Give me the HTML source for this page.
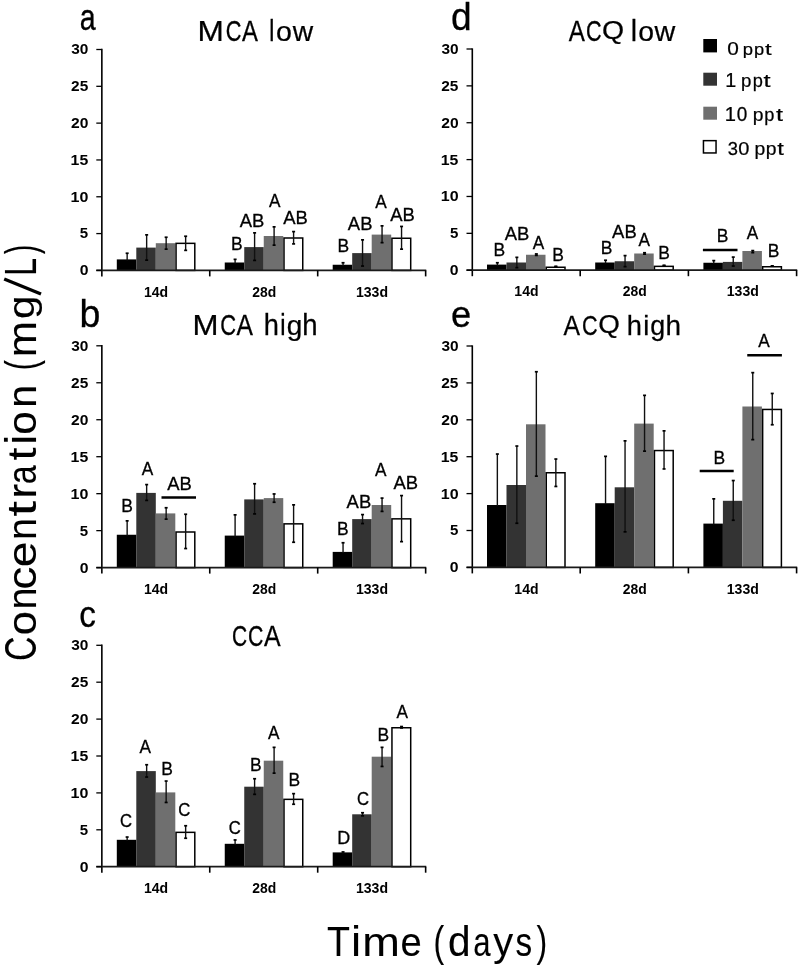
<!DOCTYPE html>
<html><head><meta charset="utf-8"><style>
html,body{margin:0;padding:0;background:#fff;}
svg{display:block;will-change:transform;}
text{font-family:"Liberation Sans",sans-serif;font-kerning:none;}
</style></head><body>
<svg width="800" height="968" viewBox="0 0 800 968">
<g>
<rect width="800" height="968" fill="#fff"/>

<rect x="116.80" y="259.40" width="19.50" height="11.00" fill="#000000"/>
<rect x="136.30" y="247.60" width="19.50" height="22.80" fill="#333333"/>
<rect x="155.80" y="243.20" width="19.50" height="27.20" fill="#6f6f6f"/>
<rect x="176.05" y="243.35" width="18.75" height="27.05" fill="#fff" stroke="#000" stroke-width="1.5"/>
<rect x="224.75" y="262.50" width="19.50" height="7.90" fill="#000000"/>
<rect x="244.25" y="247.10" width="19.50" height="23.30" fill="#333333"/>
<rect x="263.75" y="236.00" width="19.50" height="34.40" fill="#6f6f6f"/>
<rect x="284.00" y="238.00" width="18.75" height="32.40" fill="#fff" stroke="#000" stroke-width="1.5"/>
<rect x="332.70" y="264.75" width="19.50" height="5.65" fill="#000000"/>
<rect x="352.20" y="253.10" width="19.50" height="17.30" fill="#333333"/>
<rect x="371.70" y="234.60" width="19.50" height="35.80" fill="#6f6f6f"/>
<rect x="391.95" y="238.25" width="18.75" height="32.15" fill="#fff" stroke="#000" stroke-width="1.5"/>
<line x1="127.15" y1="253.40" x2="127.15" y2="260.40" stroke="#111" stroke-width="1.4"/>
<rect x="125.65" y="252.40" width="3.0" height="1.7" fill="#000"/>
<line x1="146.65" y1="235.00" x2="146.65" y2="260.00" stroke="#111" stroke-width="1.4"/>
<rect x="145.15" y="234.00" width="3.0" height="1.7" fill="#000"/>
<rect x="145.15" y="259.30" width="3.0" height="1.7" fill="#000"/>
<line x1="166.15" y1="237.40" x2="166.15" y2="249.00" stroke="#111" stroke-width="1.4"/>
<rect x="164.65" y="236.40" width="3.0" height="1.7" fill="#000"/>
<rect x="164.65" y="248.30" width="3.0" height="1.7" fill="#000"/>
<line x1="185.65" y1="236.40" x2="185.65" y2="250.20" stroke="#111" stroke-width="1.4"/>
<rect x="184.15" y="235.40" width="3.0" height="1.7" fill="#000"/>
<rect x="184.15" y="249.50" width="3.0" height="1.7" fill="#000"/>
<line x1="235.10" y1="259.50" x2="235.10" y2="263.50" stroke="#111" stroke-width="1.4"/>
<rect x="233.60" y="258.50" width="3.0" height="1.7" fill="#000"/>
<line x1="254.60" y1="233.00" x2="254.60" y2="260.25" stroke="#111" stroke-width="1.4"/>
<rect x="253.10" y="232.00" width="3.0" height="1.7" fill="#000"/>
<rect x="253.10" y="259.55" width="3.0" height="1.7" fill="#000"/>
<line x1="274.10" y1="227.00" x2="274.10" y2="245.00" stroke="#111" stroke-width="1.4"/>
<rect x="272.60" y="226.00" width="3.0" height="1.7" fill="#000"/>
<rect x="272.60" y="244.30" width="3.0" height="1.7" fill="#000"/>
<line x1="293.60" y1="231.75" x2="293.60" y2="243.75" stroke="#111" stroke-width="1.4"/>
<rect x="292.10" y="230.75" width="3.0" height="1.7" fill="#000"/>
<rect x="292.10" y="243.05" width="3.0" height="1.7" fill="#000"/>
<line x1="343.05" y1="262.90" x2="343.05" y2="265.75" stroke="#111" stroke-width="1.4"/>
<rect x="341.55" y="261.90" width="3.0" height="1.7" fill="#000"/>
<line x1="362.55" y1="240.00" x2="362.55" y2="265.90" stroke="#111" stroke-width="1.4"/>
<rect x="361.05" y="239.00" width="3.0" height="1.7" fill="#000"/>
<rect x="361.05" y="265.20" width="3.0" height="1.7" fill="#000"/>
<line x1="382.05" y1="226.00" x2="382.05" y2="242.50" stroke="#111" stroke-width="1.4"/>
<rect x="380.55" y="225.00" width="3.0" height="1.7" fill="#000"/>
<rect x="380.55" y="241.80" width="3.0" height="1.7" fill="#000"/>
<line x1="401.55" y1="226.60" x2="401.55" y2="249.00" stroke="#111" stroke-width="1.4"/>
<rect x="400.05" y="225.60" width="3.0" height="1.7" fill="#000"/>
<rect x="400.05" y="248.30" width="3.0" height="1.7" fill="#000"/>
<line x1="101.85" y1="48.80" x2="101.85" y2="276.40" stroke="#000" stroke-width="1.6"/>
<line x1="96.30" y1="270.40" x2="426.25" y2="270.40" stroke="#1a1a1a" stroke-width="1.8"/>
<line x1="209.75" y1="270.40" x2="209.75" y2="276.40" stroke="#000" stroke-width="1.6"/>
<line x1="317.70" y1="270.40" x2="317.70" y2="276.40" stroke="#000" stroke-width="1.6"/>
<line x1="425.65" y1="270.40" x2="425.65" y2="276.40" stroke="#000" stroke-width="1.6"/>
<line x1="96.30" y1="270.40" x2="101.80" y2="270.40" stroke="#000" stroke-width="1.3"/>
<text transform="translate(79.67,275.30) scale(1.0998,1)" font-size="14.33" font-weight="bold" fill="#000">0</text>
<line x1="96.30" y1="233.58" x2="101.80" y2="233.58" stroke="#000" stroke-width="1.3"/>
<text transform="translate(79.85,238.48) scale(1.0361,1)" font-size="14.53" font-weight="bold" fill="#000">5</text>
<line x1="96.30" y1="196.77" x2="101.80" y2="196.77" stroke="#000" stroke-width="1.3"/>
<text transform="translate(70.61,201.67) scale(1.1196,1)" font-size="14.33" font-weight="bold" fill="#000">10</text>
<line x1="96.30" y1="159.95" x2="101.80" y2="159.95" stroke="#000" stroke-width="1.3"/>
<text transform="translate(70.62,164.85) scale(1.0906,1)" font-size="14.53" font-weight="bold" fill="#000">15</text>
<line x1="96.30" y1="123.13" x2="101.80" y2="123.13" stroke="#000" stroke-width="1.3"/>
<text transform="translate(71.07,128.03) scale(1.0894,1)" font-size="14.33" font-weight="bold" fill="#000">20</text>
<line x1="96.30" y1="86.32" x2="101.80" y2="86.32" stroke="#000" stroke-width="1.3"/>
<text transform="translate(71.08,91.22) scale(1.0769,1)" font-size="14.33" font-weight="bold" fill="#000">25</text>
<line x1="96.30" y1="49.50" x2="101.80" y2="49.50" stroke="#000" stroke-width="1.3"/>
<text transform="translate(71.26,54.40) scale(1.0769,1)" font-size="14.33" font-weight="bold" fill="#000">30</text>
<text transform="translate(144.00,296.50) scale(0.9865,1)" font-size="14.23" font-weight="bold" fill="#000">14d</text>
<text transform="translate(252.25,296.50) scale(0.9782,1)" font-size="14.23" font-weight="bold" fill="#000">28d</text>
<text transform="translate(355.95,296.50) scale(0.9897,1)" font-size="14.23" font-weight="bold" fill="#000">133d</text>
<rect x="116.80" y="534.75" width="19.50" height="32.85" fill="#000000"/>
<rect x="136.30" y="492.90" width="19.50" height="74.70" fill="#333333"/>
<rect x="155.80" y="513.40" width="19.50" height="54.20" fill="#6f6f6f"/>
<rect x="176.05" y="532.00" width="18.75" height="35.60" fill="#fff" stroke="#000" stroke-width="1.5"/>
<rect x="224.75" y="535.60" width="19.50" height="32.00" fill="#000000"/>
<rect x="244.25" y="499.40" width="19.50" height="68.20" fill="#333333"/>
<rect x="263.75" y="498.10" width="19.50" height="69.50" fill="#6f6f6f"/>
<rect x="284.00" y="523.85" width="18.75" height="43.75" fill="#fff" stroke="#000" stroke-width="1.5"/>
<rect x="332.70" y="551.90" width="19.50" height="15.70" fill="#000000"/>
<rect x="352.20" y="519.10" width="19.50" height="48.50" fill="#333333"/>
<rect x="371.70" y="505.00" width="19.50" height="62.60" fill="#6f6f6f"/>
<rect x="391.95" y="518.85" width="18.75" height="48.75" fill="#fff" stroke="#000" stroke-width="1.5"/>
<line x1="127.15" y1="521.00" x2="127.15" y2="535.75" stroke="#111" stroke-width="1.4"/>
<rect x="125.65" y="520.00" width="3.0" height="1.7" fill="#000"/>
<line x1="146.65" y1="484.75" x2="146.65" y2="500.25" stroke="#111" stroke-width="1.4"/>
<rect x="145.15" y="483.75" width="3.0" height="1.7" fill="#000"/>
<rect x="145.15" y="499.55" width="3.0" height="1.7" fill="#000"/>
<line x1="166.15" y1="507.90" x2="166.15" y2="519.00" stroke="#111" stroke-width="1.4"/>
<rect x="164.65" y="506.90" width="3.0" height="1.7" fill="#000"/>
<rect x="164.65" y="518.30" width="3.0" height="1.7" fill="#000"/>
<line x1="185.65" y1="514.40" x2="185.65" y2="548.40" stroke="#111" stroke-width="1.4"/>
<rect x="184.15" y="513.40" width="3.0" height="1.7" fill="#000"/>
<rect x="184.15" y="547.70" width="3.0" height="1.7" fill="#000"/>
<line x1="235.10" y1="515.00" x2="235.10" y2="536.60" stroke="#111" stroke-width="1.4"/>
<rect x="233.60" y="514.00" width="3.0" height="1.7" fill="#000"/>
<line x1="254.60" y1="483.90" x2="254.60" y2="513.75" stroke="#111" stroke-width="1.4"/>
<rect x="253.10" y="482.90" width="3.0" height="1.7" fill="#000"/>
<rect x="253.10" y="513.05" width="3.0" height="1.7" fill="#000"/>
<line x1="274.10" y1="494.10" x2="274.10" y2="502.10" stroke="#111" stroke-width="1.4"/>
<rect x="272.60" y="493.10" width="3.0" height="1.7" fill="#000"/>
<rect x="272.60" y="501.40" width="3.0" height="1.7" fill="#000"/>
<line x1="293.60" y1="505.00" x2="293.60" y2="542.10" stroke="#111" stroke-width="1.4"/>
<rect x="292.10" y="504.00" width="3.0" height="1.7" fill="#000"/>
<rect x="292.10" y="541.40" width="3.0" height="1.7" fill="#000"/>
<line x1="343.05" y1="542.90" x2="343.05" y2="552.90" stroke="#111" stroke-width="1.4"/>
<rect x="341.55" y="541.90" width="3.0" height="1.7" fill="#000"/>
<line x1="362.55" y1="514.75" x2="362.55" y2="523.40" stroke="#111" stroke-width="1.4"/>
<rect x="361.05" y="513.75" width="3.0" height="1.7" fill="#000"/>
<rect x="361.05" y="522.70" width="3.0" height="1.7" fill="#000"/>
<line x1="382.05" y1="498.25" x2="382.05" y2="511.25" stroke="#111" stroke-width="1.4"/>
<rect x="380.55" y="497.25" width="3.0" height="1.7" fill="#000"/>
<rect x="380.55" y="510.55" width="3.0" height="1.7" fill="#000"/>
<line x1="401.55" y1="495.75" x2="401.55" y2="541.50" stroke="#111" stroke-width="1.4"/>
<rect x="400.05" y="494.75" width="3.0" height="1.7" fill="#000"/>
<rect x="400.05" y="540.80" width="3.0" height="1.7" fill="#000"/>
<line x1="101.85" y1="345.10" x2="101.85" y2="573.60" stroke="#000" stroke-width="1.6"/>
<line x1="96.30" y1="567.60" x2="426.25" y2="567.60" stroke="#1a1a1a" stroke-width="1.8"/>
<line x1="209.75" y1="567.60" x2="209.75" y2="573.60" stroke="#000" stroke-width="1.6"/>
<line x1="317.70" y1="567.60" x2="317.70" y2="573.60" stroke="#000" stroke-width="1.6"/>
<line x1="425.65" y1="567.60" x2="425.65" y2="573.60" stroke="#000" stroke-width="1.6"/>
<line x1="96.30" y1="567.60" x2="101.80" y2="567.60" stroke="#000" stroke-width="1.3"/>
<text transform="translate(79.67,572.50) scale(1.0998,1)" font-size="14.33" font-weight="bold" fill="#000">0</text>
<line x1="96.30" y1="530.63" x2="101.80" y2="530.63" stroke="#000" stroke-width="1.3"/>
<text transform="translate(79.85,535.53) scale(1.0361,1)" font-size="14.53" font-weight="bold" fill="#000">5</text>
<line x1="96.30" y1="493.67" x2="101.80" y2="493.67" stroke="#000" stroke-width="1.3"/>
<text transform="translate(70.61,498.57) scale(1.1196,1)" font-size="14.33" font-weight="bold" fill="#000">10</text>
<line x1="96.30" y1="456.70" x2="101.80" y2="456.70" stroke="#000" stroke-width="1.3"/>
<text transform="translate(70.62,461.60) scale(1.0906,1)" font-size="14.53" font-weight="bold" fill="#000">15</text>
<line x1="96.30" y1="419.73" x2="101.80" y2="419.73" stroke="#000" stroke-width="1.3"/>
<text transform="translate(71.07,424.63) scale(1.0894,1)" font-size="14.33" font-weight="bold" fill="#000">20</text>
<line x1="96.30" y1="382.77" x2="101.80" y2="382.77" stroke="#000" stroke-width="1.3"/>
<text transform="translate(71.08,387.67) scale(1.0769,1)" font-size="14.33" font-weight="bold" fill="#000">25</text>
<line x1="96.30" y1="345.80" x2="101.80" y2="345.80" stroke="#000" stroke-width="1.3"/>
<text transform="translate(71.26,350.70) scale(1.0769,1)" font-size="14.33" font-weight="bold" fill="#000">30</text>
<text transform="translate(144.00,593.70) scale(0.9865,1)" font-size="14.23" font-weight="bold" fill="#000">14d</text>
<text transform="translate(252.25,593.70) scale(0.9782,1)" font-size="14.23" font-weight="bold" fill="#000">28d</text>
<text transform="translate(355.95,593.70) scale(0.9897,1)" font-size="14.23" font-weight="bold" fill="#000">133d</text>
<rect x="116.80" y="839.80" width="19.50" height="26.90" fill="#000000"/>
<rect x="136.30" y="771.10" width="19.50" height="95.60" fill="#333333"/>
<rect x="155.80" y="792.40" width="19.50" height="74.30" fill="#6f6f6f"/>
<rect x="176.05" y="832.35" width="18.75" height="34.35" fill="#fff" stroke="#000" stroke-width="1.5"/>
<rect x="224.75" y="843.80" width="19.50" height="22.90" fill="#000000"/>
<rect x="244.25" y="786.70" width="19.50" height="80.00" fill="#333333"/>
<rect x="263.75" y="760.70" width="19.50" height="106.00" fill="#6f6f6f"/>
<rect x="284.00" y="799.35" width="18.75" height="67.35" fill="#fff" stroke="#000" stroke-width="1.5"/>
<rect x="332.70" y="852.40" width="19.50" height="14.30" fill="#000000"/>
<rect x="352.20" y="814.30" width="19.50" height="52.40" fill="#333333"/>
<rect x="371.70" y="756.70" width="19.50" height="110.00" fill="#6f6f6f"/>
<rect x="391.95" y="727.75" width="18.75" height="138.95" fill="#fff" stroke="#000" stroke-width="1.5"/>
<line x1="127.15" y1="837.20" x2="127.15" y2="840.80" stroke="#111" stroke-width="1.4"/>
<rect x="125.65" y="836.20" width="3.0" height="1.7" fill="#000"/>
<line x1="146.65" y1="764.90" x2="146.65" y2="776.90" stroke="#111" stroke-width="1.4"/>
<rect x="145.15" y="763.90" width="3.0" height="1.7" fill="#000"/>
<rect x="145.15" y="776.20" width="3.0" height="1.7" fill="#000"/>
<line x1="166.15" y1="781.20" x2="166.15" y2="802.30" stroke="#111" stroke-width="1.4"/>
<rect x="164.65" y="780.20" width="3.0" height="1.7" fill="#000"/>
<rect x="164.65" y="801.60" width="3.0" height="1.7" fill="#000"/>
<line x1="185.65" y1="825.90" x2="185.65" y2="838.10" stroke="#111" stroke-width="1.4"/>
<rect x="184.15" y="824.90" width="3.0" height="1.7" fill="#000"/>
<rect x="184.15" y="837.40" width="3.0" height="1.7" fill="#000"/>
<line x1="235.10" y1="840.10" x2="235.10" y2="844.80" stroke="#111" stroke-width="1.4"/>
<rect x="233.60" y="839.10" width="3.0" height="1.7" fill="#000"/>
<line x1="254.60" y1="778.90" x2="254.60" y2="794.20" stroke="#111" stroke-width="1.4"/>
<rect x="253.10" y="777.90" width="3.0" height="1.7" fill="#000"/>
<rect x="253.10" y="793.50" width="3.0" height="1.7" fill="#000"/>
<line x1="274.10" y1="747.50" x2="274.10" y2="773.00" stroke="#111" stroke-width="1.4"/>
<rect x="272.60" y="746.50" width="3.0" height="1.7" fill="#000"/>
<rect x="272.60" y="772.30" width="3.0" height="1.7" fill="#000"/>
<line x1="293.60" y1="793.80" x2="293.60" y2="804.10" stroke="#111" stroke-width="1.4"/>
<rect x="292.10" y="792.80" width="3.0" height="1.7" fill="#000"/>
<rect x="292.10" y="803.40" width="3.0" height="1.7" fill="#000"/>
<line x1="343.05" y1="852.10" x2="343.05" y2="853.40" stroke="#111" stroke-width="1.4"/>
<rect x="341.55" y="851.10" width="3.0" height="1.7" fill="#000"/>
<line x1="362.55" y1="812.90" x2="362.55" y2="815.70" stroke="#111" stroke-width="1.4"/>
<rect x="361.05" y="811.90" width="3.0" height="1.7" fill="#000"/>
<rect x="361.05" y="815.00" width="3.0" height="1.7" fill="#000"/>
<line x1="382.05" y1="747.50" x2="382.05" y2="766.30" stroke="#111" stroke-width="1.4"/>
<rect x="380.55" y="746.50" width="3.0" height="1.7" fill="#000"/>
<rect x="380.55" y="765.60" width="3.0" height="1.7" fill="#000"/>
<line x1="401.55" y1="726.70" x2="401.55" y2="727.80" stroke="#111" stroke-width="1.4"/>
<rect x="400.05" y="725.70" width="3.0" height="1.7" fill="#000"/>
<rect x="400.05" y="727.10" width="3.0" height="1.7" fill="#000"/>
<line x1="101.85" y1="644.60" x2="101.85" y2="872.70" stroke="#000" stroke-width="1.6"/>
<line x1="96.30" y1="866.70" x2="426.25" y2="866.70" stroke="#1a1a1a" stroke-width="1.8"/>
<line x1="209.75" y1="866.70" x2="209.75" y2="872.70" stroke="#000" stroke-width="1.6"/>
<line x1="317.70" y1="866.70" x2="317.70" y2="872.70" stroke="#000" stroke-width="1.6"/>
<line x1="425.65" y1="866.70" x2="425.65" y2="872.70" stroke="#000" stroke-width="1.6"/>
<line x1="96.30" y1="866.70" x2="101.80" y2="866.70" stroke="#000" stroke-width="1.3"/>
<text transform="translate(79.67,871.60) scale(1.0998,1)" font-size="14.33" font-weight="bold" fill="#000">0</text>
<line x1="96.30" y1="829.80" x2="101.80" y2="829.80" stroke="#000" stroke-width="1.3"/>
<text transform="translate(79.85,834.70) scale(1.0361,1)" font-size="14.53" font-weight="bold" fill="#000">5</text>
<line x1="96.30" y1="792.90" x2="101.80" y2="792.90" stroke="#000" stroke-width="1.3"/>
<text transform="translate(70.61,797.80) scale(1.1196,1)" font-size="14.33" font-weight="bold" fill="#000">10</text>
<line x1="96.30" y1="756.00" x2="101.80" y2="756.00" stroke="#000" stroke-width="1.3"/>
<text transform="translate(70.62,760.90) scale(1.0906,1)" font-size="14.53" font-weight="bold" fill="#000">15</text>
<line x1="96.30" y1="719.10" x2="101.80" y2="719.10" stroke="#000" stroke-width="1.3"/>
<text transform="translate(71.07,724.00) scale(1.0894,1)" font-size="14.33" font-weight="bold" fill="#000">20</text>
<line x1="96.30" y1="682.20" x2="101.80" y2="682.20" stroke="#000" stroke-width="1.3"/>
<text transform="translate(71.08,687.10) scale(1.0769,1)" font-size="14.33" font-weight="bold" fill="#000">25</text>
<line x1="96.30" y1="645.30" x2="101.80" y2="645.30" stroke="#000" stroke-width="1.3"/>
<text transform="translate(71.26,650.20) scale(1.0769,1)" font-size="14.33" font-weight="bold" fill="#000">30</text>
<text transform="translate(144.00,892.80) scale(0.9865,1)" font-size="14.23" font-weight="bold" fill="#000">14d</text>
<text transform="translate(252.25,892.80) scale(0.9782,1)" font-size="14.23" font-weight="bold" fill="#000">28d</text>
<text transform="translate(355.95,892.80) scale(0.9897,1)" font-size="14.23" font-weight="bold" fill="#000">133d</text>
<rect x="487.00" y="264.60" width="19.50" height="5.60" fill="#000000"/>
<rect x="506.50" y="262.50" width="19.50" height="7.70" fill="#333333"/>
<rect x="526.00" y="254.75" width="19.50" height="15.45" fill="#6f6f6f"/>
<rect x="546.25" y="267.25" width="18.75" height="2.95" fill="#fff" stroke="#000" stroke-width="1.5"/>
<rect x="595.20" y="262.50" width="19.50" height="7.70" fill="#000000"/>
<rect x="614.70" y="261.25" width="19.50" height="8.95" fill="#333333"/>
<rect x="634.20" y="253.50" width="19.50" height="16.70" fill="#6f6f6f"/>
<rect x="654.45" y="266.35" width="18.75" height="3.85" fill="#fff" stroke="#000" stroke-width="1.5"/>
<rect x="703.40" y="262.75" width="19.50" height="7.45" fill="#000000"/>
<rect x="722.90" y="261.90" width="19.50" height="8.30" fill="#333333"/>
<rect x="742.40" y="251.00" width="19.50" height="19.20" fill="#6f6f6f"/>
<rect x="762.65" y="266.75" width="18.75" height="3.45" fill="#fff" stroke="#000" stroke-width="1.5"/>
<line x1="497.35" y1="262.90" x2="497.35" y2="265.60" stroke="#111" stroke-width="1.4"/>
<rect x="495.85" y="261.90" width="3.0" height="1.7" fill="#000"/>
<line x1="516.85" y1="257.50" x2="516.85" y2="267.50" stroke="#111" stroke-width="1.4"/>
<rect x="515.35" y="256.50" width="3.0" height="1.7" fill="#000"/>
<rect x="515.35" y="266.80" width="3.0" height="1.7" fill="#000"/>
<line x1="536.35" y1="254.10" x2="536.35" y2="255.25" stroke="#111" stroke-width="1.4"/>
<rect x="534.85" y="253.10" width="3.0" height="1.7" fill="#000"/>
<rect x="534.85" y="254.55" width="3.0" height="1.7" fill="#000"/>
<line x1="555.85" y1="266.80" x2="555.85" y2="266.20" stroke="#111" stroke-width="1.4"/>
<rect x="554.35" y="265.80" width="3.0" height="1.7" fill="#000"/>
<rect x="554.35" y="265.50" width="3.0" height="1.7" fill="#000"/>
<line x1="605.55" y1="260.40" x2="605.55" y2="263.50" stroke="#111" stroke-width="1.4"/>
<rect x="604.05" y="259.40" width="3.0" height="1.7" fill="#000"/>
<line x1="625.05" y1="255.75" x2="625.05" y2="266.50" stroke="#111" stroke-width="1.4"/>
<rect x="623.55" y="254.75" width="3.0" height="1.7" fill="#000"/>
<rect x="623.55" y="265.80" width="3.0" height="1.7" fill="#000"/>
<line x1="644.55" y1="252.90" x2="644.55" y2="254.00" stroke="#111" stroke-width="1.4"/>
<rect x="643.05" y="251.90" width="3.0" height="1.7" fill="#000"/>
<rect x="643.05" y="253.30" width="3.0" height="1.7" fill="#000"/>
<line x1="664.05" y1="265.80" x2="664.05" y2="265.20" stroke="#111" stroke-width="1.4"/>
<rect x="662.55" y="264.80" width="3.0" height="1.7" fill="#000"/>
<rect x="662.55" y="264.50" width="3.0" height="1.7" fill="#000"/>
<line x1="713.75" y1="260.75" x2="713.75" y2="263.75" stroke="#111" stroke-width="1.4"/>
<rect x="712.25" y="259.75" width="3.0" height="1.7" fill="#000"/>
<line x1="733.25" y1="257.25" x2="733.25" y2="265.90" stroke="#111" stroke-width="1.4"/>
<rect x="731.75" y="256.25" width="3.0" height="1.7" fill="#000"/>
<rect x="731.75" y="265.20" width="3.0" height="1.7" fill="#000"/>
<line x1="752.75" y1="250.75" x2="752.75" y2="252.50" stroke="#111" stroke-width="1.4"/>
<rect x="751.25" y="249.75" width="3.0" height="1.7" fill="#000"/>
<rect x="751.25" y="251.80" width="3.0" height="1.7" fill="#000"/>
<line x1="772.25" y1="266.30" x2="772.25" y2="265.70" stroke="#111" stroke-width="1.4"/>
<rect x="770.75" y="265.30" width="3.0" height="1.7" fill="#000"/>
<rect x="770.75" y="265.00" width="3.0" height="1.7" fill="#000"/>
<line x1="472.30" y1="48.30" x2="472.30" y2="276.20" stroke="#000" stroke-width="1.6"/>
<line x1="466.50" y1="270.20" x2="797.20" y2="270.20" stroke="#1a1a1a" stroke-width="1.8"/>
<line x1="580.20" y1="270.20" x2="580.20" y2="276.20" stroke="#000" stroke-width="1.6"/>
<line x1="688.40" y1="270.20" x2="688.40" y2="276.20" stroke="#000" stroke-width="1.6"/>
<line x1="796.60" y1="270.20" x2="796.60" y2="276.20" stroke="#000" stroke-width="1.6"/>
<line x1="466.50" y1="270.20" x2="472.00" y2="270.20" stroke="#000" stroke-width="1.3"/>
<text transform="translate(449.87,275.10) scale(1.0998,1)" font-size="14.33" font-weight="bold" fill="#000">0</text>
<line x1="466.50" y1="233.33" x2="472.00" y2="233.33" stroke="#000" stroke-width="1.3"/>
<text transform="translate(450.05,238.23) scale(1.0361,1)" font-size="14.53" font-weight="bold" fill="#000">5</text>
<line x1="466.50" y1="196.47" x2="472.00" y2="196.47" stroke="#000" stroke-width="1.3"/>
<text transform="translate(440.81,201.37) scale(1.1196,1)" font-size="14.33" font-weight="bold" fill="#000">10</text>
<line x1="466.50" y1="159.60" x2="472.00" y2="159.60" stroke="#000" stroke-width="1.3"/>
<text transform="translate(440.82,164.50) scale(1.0906,1)" font-size="14.53" font-weight="bold" fill="#000">15</text>
<line x1="466.50" y1="122.73" x2="472.00" y2="122.73" stroke="#000" stroke-width="1.3"/>
<text transform="translate(441.27,127.63) scale(1.0894,1)" font-size="14.33" font-weight="bold" fill="#000">20</text>
<line x1="466.50" y1="85.87" x2="472.00" y2="85.87" stroke="#000" stroke-width="1.3"/>
<text transform="translate(441.28,90.77) scale(1.0769,1)" font-size="14.33" font-weight="bold" fill="#000">25</text>
<line x1="466.50" y1="49.00" x2="472.00" y2="49.00" stroke="#000" stroke-width="1.3"/>
<text transform="translate(441.46,53.90) scale(1.0769,1)" font-size="14.33" font-weight="bold" fill="#000">30</text>
<text transform="translate(514.33,296.30) scale(0.9865,1)" font-size="14.23" font-weight="bold" fill="#000">14d</text>
<text transform="translate(622.83,296.30) scale(0.9782,1)" font-size="14.23" font-weight="bold" fill="#000">28d</text>
<text transform="translate(726.78,296.30) scale(0.9897,1)" font-size="14.23" font-weight="bold" fill="#000">133d</text>
<rect x="487.00" y="505.00" width="19.50" height="62.40" fill="#000000"/>
<rect x="506.50" y="485.00" width="19.50" height="82.40" fill="#333333"/>
<rect x="526.00" y="424.30" width="19.50" height="143.10" fill="#6f6f6f"/>
<rect x="546.25" y="472.75" width="18.75" height="94.65" fill="#fff" stroke="#000" stroke-width="1.5"/>
<rect x="595.20" y="503.20" width="19.50" height="64.20" fill="#000000"/>
<rect x="614.70" y="487.30" width="19.50" height="80.10" fill="#333333"/>
<rect x="634.20" y="423.60" width="19.50" height="143.80" fill="#6f6f6f"/>
<rect x="654.45" y="450.55" width="18.75" height="116.85" fill="#fff" stroke="#000" stroke-width="1.5"/>
<rect x="703.40" y="523.60" width="19.50" height="43.80" fill="#000000"/>
<rect x="722.90" y="500.80" width="19.50" height="66.60" fill="#333333"/>
<rect x="742.40" y="406.50" width="19.50" height="160.90" fill="#6f6f6f"/>
<rect x="762.65" y="409.45" width="18.75" height="157.95" fill="#fff" stroke="#000" stroke-width="1.5"/>
<line x1="497.35" y1="454.20" x2="497.35" y2="506.00" stroke="#111" stroke-width="1.4"/>
<rect x="495.85" y="453.20" width="3.0" height="1.7" fill="#000"/>
<line x1="516.85" y1="446.20" x2="516.85" y2="523.10" stroke="#111" stroke-width="1.4"/>
<rect x="515.35" y="445.20" width="3.0" height="1.7" fill="#000"/>
<rect x="515.35" y="522.40" width="3.0" height="1.7" fill="#000"/>
<line x1="536.35" y1="371.90" x2="536.35" y2="476.00" stroke="#111" stroke-width="1.4"/>
<rect x="534.85" y="370.90" width="3.0" height="1.7" fill="#000"/>
<rect x="534.85" y="475.30" width="3.0" height="1.7" fill="#000"/>
<line x1="555.85" y1="459.20" x2="555.85" y2="486.30" stroke="#111" stroke-width="1.4"/>
<rect x="554.35" y="458.20" width="3.0" height="1.7" fill="#000"/>
<rect x="554.35" y="485.60" width="3.0" height="1.7" fill="#000"/>
<line x1="605.55" y1="456.50" x2="605.55" y2="504.20" stroke="#111" stroke-width="1.4"/>
<rect x="604.05" y="455.50" width="3.0" height="1.7" fill="#000"/>
<line x1="625.05" y1="441.00" x2="625.05" y2="531.70" stroke="#111" stroke-width="1.4"/>
<rect x="623.55" y="440.00" width="3.0" height="1.7" fill="#000"/>
<rect x="623.55" y="531.00" width="3.0" height="1.7" fill="#000"/>
<line x1="644.55" y1="395.50" x2="644.55" y2="451.00" stroke="#111" stroke-width="1.4"/>
<rect x="643.05" y="394.50" width="3.0" height="1.7" fill="#000"/>
<rect x="643.05" y="450.30" width="3.0" height="1.7" fill="#000"/>
<line x1="664.05" y1="431.00" x2="664.05" y2="468.80" stroke="#111" stroke-width="1.4"/>
<rect x="662.55" y="430.00" width="3.0" height="1.7" fill="#000"/>
<rect x="662.55" y="468.10" width="3.0" height="1.7" fill="#000"/>
<line x1="713.75" y1="499.00" x2="713.75" y2="524.60" stroke="#111" stroke-width="1.4"/>
<rect x="712.25" y="498.00" width="3.0" height="1.7" fill="#000"/>
<line x1="733.25" y1="480.70" x2="733.25" y2="520.10" stroke="#111" stroke-width="1.4"/>
<rect x="731.75" y="479.70" width="3.0" height="1.7" fill="#000"/>
<rect x="731.75" y="519.40" width="3.0" height="1.7" fill="#000"/>
<line x1="752.75" y1="372.80" x2="752.75" y2="439.50" stroke="#111" stroke-width="1.4"/>
<rect x="751.25" y="371.80" width="3.0" height="1.7" fill="#000"/>
<rect x="751.25" y="438.80" width="3.0" height="1.7" fill="#000"/>
<line x1="772.25" y1="393.60" x2="772.25" y2="424.60" stroke="#111" stroke-width="1.4"/>
<rect x="770.75" y="392.60" width="3.0" height="1.7" fill="#000"/>
<rect x="770.75" y="423.90" width="3.0" height="1.7" fill="#000"/>
<line x1="472.30" y1="345.30" x2="472.30" y2="573.40" stroke="#000" stroke-width="1.6"/>
<line x1="466.50" y1="567.40" x2="797.20" y2="567.40" stroke="#1a1a1a" stroke-width="1.8"/>
<line x1="580.20" y1="567.40" x2="580.20" y2="573.40" stroke="#000" stroke-width="1.6"/>
<line x1="688.40" y1="567.40" x2="688.40" y2="573.40" stroke="#000" stroke-width="1.6"/>
<line x1="796.60" y1="567.40" x2="796.60" y2="573.40" stroke="#000" stroke-width="1.6"/>
<line x1="466.50" y1="567.40" x2="472.00" y2="567.40" stroke="#000" stroke-width="1.3"/>
<text transform="translate(449.87,572.30) scale(1.0998,1)" font-size="14.33" font-weight="bold" fill="#000">0</text>
<line x1="466.50" y1="530.50" x2="472.00" y2="530.50" stroke="#000" stroke-width="1.3"/>
<text transform="translate(450.05,535.40) scale(1.0361,1)" font-size="14.53" font-weight="bold" fill="#000">5</text>
<line x1="466.50" y1="493.60" x2="472.00" y2="493.60" stroke="#000" stroke-width="1.3"/>
<text transform="translate(440.81,498.50) scale(1.1196,1)" font-size="14.33" font-weight="bold" fill="#000">10</text>
<line x1="466.50" y1="456.70" x2="472.00" y2="456.70" stroke="#000" stroke-width="1.3"/>
<text transform="translate(440.82,461.60) scale(1.0906,1)" font-size="14.53" font-weight="bold" fill="#000">15</text>
<line x1="466.50" y1="419.80" x2="472.00" y2="419.80" stroke="#000" stroke-width="1.3"/>
<text transform="translate(441.27,424.70) scale(1.0894,1)" font-size="14.33" font-weight="bold" fill="#000">20</text>
<line x1="466.50" y1="382.90" x2="472.00" y2="382.90" stroke="#000" stroke-width="1.3"/>
<text transform="translate(441.28,387.80) scale(1.0769,1)" font-size="14.33" font-weight="bold" fill="#000">25</text>
<line x1="466.50" y1="346.00" x2="472.00" y2="346.00" stroke="#000" stroke-width="1.3"/>
<text transform="translate(441.46,350.90) scale(1.0769,1)" font-size="14.33" font-weight="bold" fill="#000">30</text>
<text transform="translate(514.33,593.50) scale(0.9865,1)" font-size="14.23" font-weight="bold" fill="#000">14d</text>
<text transform="translate(622.83,593.50) scale(0.9782,1)" font-size="14.23" font-weight="bold" fill="#000">28d</text>
<text transform="translate(726.78,593.50) scale(0.9897,1)" font-size="14.23" font-weight="bold" fill="#000">133d</text>
<text transform="translate(231.12,249.95) scale(0.9699,1)" font-size="18.02" font-weight="normal" fill="#000" stroke="#000" stroke-width="0.3">B</text>
<text transform="translate(239.71,226.52) scale(1.0230,1)" font-size="18.02" font-weight="normal" fill="#000" stroke="#000" stroke-width="0.3">AB</text>
<text transform="translate(268.94,206.52) scale(0.9555,1)" font-size="18.02" font-weight="normal" fill="#000" stroke="#000" stroke-width="0.3">A</text>
<text transform="translate(283.16,224.02) scale(1.0230,1)" font-size="18.02" font-weight="normal" fill="#000" stroke="#000" stroke-width="0.3">AB</text>
<text transform="translate(337.54,252.25) scale(0.9699,1)" font-size="18.02" font-weight="normal" fill="#000" stroke="#000" stroke-width="0.3">B</text>
<text transform="translate(347.86,230.12) scale(1.0230,1)" font-size="18.02" font-weight="normal" fill="#000" stroke="#000" stroke-width="0.3">AB</text>
<text transform="translate(375.22,207.75) scale(0.9555,1)" font-size="18.02" font-weight="normal" fill="#000" stroke="#000" stroke-width="0.3">A</text>
<text transform="translate(390.24,221.00) scale(1.0230,1)" font-size="18.02" font-weight="normal" fill="#000" stroke="#000" stroke-width="0.3">AB</text>
<text transform="translate(121.17,511.82) scale(0.9699,1)" font-size="18.02" font-weight="normal" fill="#000" stroke="#000" stroke-width="0.3">B</text>
<text transform="translate(141.77,474.52) scale(0.9555,1)" font-size="18.02" font-weight="normal" fill="#000" stroke="#000" stroke-width="0.3">A</text>
<text transform="translate(167.24,490.25) scale(1.0230,1)" font-size="18.02" font-weight="normal" fill="#000" stroke="#000" stroke-width="0.3">AB</text>
<text transform="translate(337.02,534.95) scale(0.9699,1)" font-size="18.02" font-weight="normal" fill="#000" stroke="#000" stroke-width="0.3">B</text>
<text transform="translate(346.59,508.38) scale(1.0230,1)" font-size="18.02" font-weight="normal" fill="#000" stroke="#000" stroke-width="0.3">AB</text>
<text transform="translate(375.09,476.00) scale(0.9555,1)" font-size="18.02" font-weight="normal" fill="#000" stroke="#000" stroke-width="0.3">A</text>
<text transform="translate(393.54,488.50) scale(1.0230,1)" font-size="18.02" font-weight="normal" fill="#000" stroke="#000" stroke-width="0.3">AB</text>
<text transform="translate(120.06,827.40) scale(0.9411,1)" font-size="17.77" font-weight="normal" fill="#000" stroke="#000" stroke-width="0.3">C</text>
<text transform="translate(139.42,753.20) scale(0.9555,1)" font-size="18.02" font-weight="normal" fill="#000" stroke="#000" stroke-width="0.3">A</text>
<text transform="translate(161.37,774.75) scale(0.9699,1)" font-size="18.02" font-weight="normal" fill="#000" stroke="#000" stroke-width="0.3">B</text>
<text transform="translate(178.36,816.15) scale(0.9411,1)" font-size="17.77" font-weight="normal" fill="#000" stroke="#000" stroke-width="0.3">C</text>
<text transform="translate(228.76,834.40) scale(0.9411,1)" font-size="17.77" font-weight="normal" fill="#000" stroke="#000" stroke-width="0.3">C</text>
<text transform="translate(250.02,770.60) scale(0.9699,1)" font-size="18.02" font-weight="normal" fill="#000" stroke="#000" stroke-width="0.3">B</text>
<text transform="translate(268.07,739.00) scale(0.9555,1)" font-size="18.02" font-weight="normal" fill="#000" stroke="#000" stroke-width="0.3">A</text>
<text transform="translate(288.47,786.00) scale(0.9699,1)" font-size="18.02" font-weight="normal" fill="#000" stroke="#000" stroke-width="0.3">B</text>
<text transform="translate(337.18,844.35) scale(0.9935,1)" font-size="18.02" font-weight="normal" fill="#000" stroke="#000" stroke-width="0.3">D</text>
<text transform="translate(356.96,805.20) scale(0.9411,1)" font-size="17.77" font-weight="normal" fill="#000" stroke="#000" stroke-width="0.3">C</text>
<text transform="translate(377.42,740.70) scale(0.9699,1)" font-size="18.02" font-weight="normal" fill="#000" stroke="#000" stroke-width="0.3">B</text>
<text transform="translate(396.42,718.00) scale(0.9555,1)" font-size="18.02" font-weight="normal" fill="#000" stroke="#000" stroke-width="0.3">A</text>
<text transform="translate(493.49,256.00) scale(0.9699,1)" font-size="18.02" font-weight="normal" fill="#000" stroke="#000" stroke-width="0.3">B</text>
<text transform="translate(504.71,240.25) scale(1.0230,1)" font-size="18.02" font-weight="normal" fill="#000" stroke="#000" stroke-width="0.3">AB</text>
<text transform="translate(532.72,248.70) scale(0.9555,1)" font-size="18.02" font-weight="normal" fill="#000" stroke="#000" stroke-width="0.3">A</text>
<text transform="translate(552.22,261.20) scale(0.9699,1)" font-size="18.02" font-weight="normal" fill="#000" stroke="#000" stroke-width="0.3">B</text>
<text transform="translate(600.79,253.50) scale(0.9699,1)" font-size="18.02" font-weight="normal" fill="#000" stroke="#000" stroke-width="0.3">B</text>
<text transform="translate(612.11,237.75) scale(1.0230,1)" font-size="18.02" font-weight="normal" fill="#000" stroke="#000" stroke-width="0.3">AB</text>
<text transform="translate(638.39,246.20) scale(0.9555,1)" font-size="18.02" font-weight="normal" fill="#000" stroke="#000" stroke-width="0.3">A</text>
<text transform="translate(658.29,258.50) scale(0.9699,1)" font-size="18.02" font-weight="normal" fill="#000" stroke="#000" stroke-width="0.3">B</text>
<text transform="translate(716.79,241.52) scale(0.9699,1)" font-size="18.02" font-weight="normal" fill="#000" stroke="#000" stroke-width="0.3">B</text>
<text transform="translate(746.82,238.70) scale(0.9555,1)" font-size="18.02" font-weight="normal" fill="#000" stroke="#000" stroke-width="0.3">A</text>
<text transform="translate(767.84,257.27) scale(0.9699,1)" font-size="18.02" font-weight="normal" fill="#000" stroke="#000" stroke-width="0.3">B</text>
<text transform="translate(713.47,464.05) scale(0.9699,1)" font-size="18.02" font-weight="normal" fill="#000" stroke="#000" stroke-width="0.3">B</text>
<text transform="translate(758.32,347.07) scale(0.9555,1)" font-size="18.02" font-weight="normal" fill="#000" stroke="#000" stroke-width="0.3">A</text>
<line x1="161.50" y1="497.50" x2="196.00" y2="497.50" stroke="#000" stroke-width="2.4"/>
<line x1="702.90" y1="250.00" x2="737.50" y2="250.00" stroke="#000" stroke-width="2.4"/>
<line x1="699.70" y1="471.00" x2="733.70" y2="471.00" stroke="#000" stroke-width="2.4"/>
<line x1="747.25" y1="355.25" x2="781.90" y2="355.25" stroke="#000" stroke-width="2.4"/>
<text transform="translate(197.56,40.70) scale(1.1051,1.0000)" font-size="28.63" font-weight="normal" stroke="#000" stroke-width="0.226">M</text>
<text transform="translate(225.66,40.70) scale(0.7602,1.0000)" font-size="28.63" font-weight="normal" stroke="#000" stroke-width="0.329">C</text>
<text transform="translate(242.10,40.70) scale(0.8335,1.0000)" font-size="28.63" font-weight="normal" stroke="#000" stroke-width="0.300">A</text>
<text transform="translate(269.20,40.70) scale(0.7937,1.0000)" font-size="28.63" font-weight="normal" stroke="#000" stroke-width="0.315">l</text>
<text transform="translate(276.05,40.70) scale(0.9989,0.9500)" font-size="28.63" font-weight="normal" stroke="#000" stroke-width="0.250">o</text>
<text transform="translate(292.81,40.70) scale(0.9861,0.9500)" font-size="28.63" font-weight="normal" stroke="#000" stroke-width="0.254">w</text>
<text transform="translate(192.49,335.40) scale(1.0894,1.0000)" font-size="28.63" font-weight="normal" stroke="#000" stroke-width="0.229">M</text>
<text transform="translate(220.25,335.40) scale(0.7657,1.0000)" font-size="28.63" font-weight="normal" stroke="#000" stroke-width="0.327">C</text>
<text transform="translate(236.60,335.40) scale(0.8599,1.0000)" font-size="28.63" font-weight="normal" stroke="#000" stroke-width="0.291">A</text>
<text transform="translate(263.64,335.40) scale(0.9517,1.0000)" font-size="28.63" font-weight="normal" stroke="#000" stroke-width="0.263">h</text>
<text transform="translate(280.37,335.40) scale(0.8334,1.0000)" font-size="28.63" font-weight="normal" stroke="#000" stroke-width="0.300">i</text>
<text transform="translate(286.87,335.40) scale(0.9779,0.9500)" font-size="28.63" font-weight="normal" stroke="#000" stroke-width="0.256">g</text>
<text transform="translate(302.33,335.40) scale(0.9600,1.0000)" font-size="28.63" font-weight="normal" stroke="#000" stroke-width="0.260">h</text>
<text transform="translate(231.90,645.60) scale(0.7253,1.0000)" font-size="28.92" font-weight="normal" stroke="#000" stroke-width="0.345">C</text>
<text transform="translate(247.89,645.60) scale(0.7362,1.0000)" font-size="28.92" font-weight="normal" stroke="#000" stroke-width="0.340">C</text>
<text transform="translate(264.10,645.60) scale(0.8617,1.0000)" font-size="28.92" font-weight="normal" stroke="#000" stroke-width="0.290">A</text>
<text transform="translate(568.70,40.80) scale(0.8398,1.0000)" font-size="28.78" font-weight="normal" stroke="#000" stroke-width="0.298">A</text>
<text transform="translate(586.07,40.80) scale(0.7509,1.0000)" font-size="28.78" font-weight="normal" stroke="#000" stroke-width="0.333">C</text>
<text transform="translate(601.88,38.56) scale(0.9884,0.8942)" font-size="28.78" font-weight="normal" stroke="#000" stroke-width="0.253">Q</text>
<text transform="translate(630.72,40.80) scale(0.9871,1.0000)" font-size="28.78" font-weight="normal" stroke="#000" stroke-width="0.253">l</text>
<text transform="translate(638.16,40.80) scale(0.9865,0.9500)" font-size="28.78" font-weight="normal" stroke="#000" stroke-width="0.253">o</text>
<text transform="translate(654.41,40.80) scale(1.0003,0.9500)" font-size="28.78" font-weight="normal" stroke="#000" stroke-width="0.250">w</text>
<text transform="translate(563.60,335.10) scale(0.8741,1.0000)" font-size="28.34" font-weight="normal" stroke="#000" stroke-width="0.286">A</text>
<text transform="translate(582.07,335.10) scale(0.7624,1.0000)" font-size="28.34" font-weight="normal" stroke="#000" stroke-width="0.328">C</text>
<text transform="translate(598.31,332.93) scale(0.9829,0.8960)" font-size="28.34" font-weight="normal" stroke="#000" stroke-width="0.254">Q</text>
<text transform="translate(626.64,335.10) scale(0.9615,1.0000)" font-size="28.34" font-weight="normal" stroke="#000" stroke-width="0.260">h</text>
<text transform="translate(643.35,335.10) scale(0.9622,1.0000)" font-size="28.34" font-weight="normal" stroke="#000" stroke-width="0.260">i</text>
<text transform="translate(650.22,335.10) scale(0.9487,0.9500)" font-size="28.34" font-weight="normal" stroke="#000" stroke-width="0.264">g</text>
<text transform="translate(665.49,335.10) scale(0.9866,1.0000)" font-size="28.34" font-weight="normal" stroke="#000" stroke-width="0.253">h</text>
<text transform="translate(79.80,30.04) scale(0.7876,1)" font-size="36.31" font-weight="normal" fill="#000" stroke="#000" stroke-width="0.3">a</text>
<text transform="translate(79.60,326.61) scale(0.9571,1)" font-size="39.24" font-weight="normal" fill="#000" stroke="#000" stroke-width="0.3">b</text>
<text transform="translate(79.20,627.24) scale(0.9133,1)" font-size="36.50" font-weight="normal" fill="#000" stroke="#000" stroke-width="0.3">c</text>
<text transform="translate(451.04,29.60) scale(0.9393,1)" font-size="39.51" font-weight="normal" fill="#000" stroke="#000" stroke-width="0.3">d</text>
<text transform="translate(450.88,327.13) scale(0.9813,1)" font-size="36.86" font-weight="normal" fill="#000" stroke="#000" stroke-width="0.3">e</text>
<rect x="703.3" y="39" width="13.7" height="13.4" fill="#000"/>
<rect x="703.3" y="72.7" width="13.7" height="13" fill="#333"/>
<rect x="703.3" y="106.7" width="13.7" height="13" fill="#6f6f6f"/>
<rect x="703.45" y="140.65" width="12.6" height="12.3" fill="#fff" stroke="#000" stroke-width="1.5"/>
<text transform="translate(727.36,54.60) scale(1.1450,1.0000)" font-size="18.19" font-weight="normal" stroke="#000" stroke-width="0.218">0</text>
<text transform="translate(742.67,54.60) scale(1.0137,0.9500)" font-size="18.19" font-weight="normal" stroke="#000" stroke-width="0.247">p</text>
<text transform="translate(754.08,54.60) scale(1.0015,0.9500)" font-size="18.19" font-weight="normal" stroke="#000" stroke-width="0.250">p</text>
<text transform="translate(764.92,54.60) scale(1.3096,0.9500)" font-size="18.19" font-weight="normal" stroke="#000" stroke-width="0.191">t</text>
<text transform="translate(725.35,86.90) scale(1.0178,1.0000)" font-size="19.33" font-weight="normal" stroke="#000" stroke-width="0.246">1</text>
<text transform="translate(740.96,86.90) scale(0.9656,0.9500)" font-size="19.33" font-weight="normal" stroke="#000" stroke-width="0.259">p</text>
<text transform="translate(752.78,86.90) scale(0.9426,0.9500)" font-size="19.33" font-weight="normal" stroke="#000" stroke-width="0.265">p</text>
<text transform="translate(763.59,86.90) scale(1.3134,0.9500)" font-size="19.33" font-weight="normal" stroke="#000" stroke-width="0.190">t</text>
<text transform="translate(724.82,120.70) scale(1.0114,1.0000)" font-size="19.91" font-weight="normal" stroke="#000" stroke-width="0.247">1</text>
<text transform="translate(736.63,120.70) scale(0.9521,1.0000)" font-size="19.91" font-weight="normal" stroke="#000" stroke-width="0.263">0</text>
<text transform="translate(752.71,120.70) scale(0.9709,0.9500)" font-size="19.91" font-weight="normal" stroke="#000" stroke-width="0.257">p</text>
<text transform="translate(764.18,120.70) scale(0.9151,0.9500)" font-size="19.91" font-weight="normal" stroke="#000" stroke-width="0.273">p</text>
<text transform="translate(775.89,120.70) scale(1.2751,0.9500)" font-size="19.91" font-weight="normal" stroke="#000" stroke-width="0.196">t</text>
<text transform="translate(727.85,154.80) scale(0.9561,1.0000)" font-size="19.20" font-weight="normal" stroke="#000" stroke-width="0.261">3</text>
<text transform="translate(738.29,154.80) scale(1.0418,1.0000)" font-size="19.20" font-weight="normal" stroke="#000" stroke-width="0.240">0</text>
<text transform="translate(754.41,154.80) scale(1.0071,0.9500)" font-size="19.20" font-weight="normal" stroke="#000" stroke-width="0.248">p</text>
<text transform="translate(765.81,154.80) scale(1.0071,0.9500)" font-size="19.20" font-weight="normal" stroke="#000" stroke-width="0.248">p</text>
<text transform="translate(777.22,154.80) scale(1.2412,0.9500)" font-size="19.20" font-weight="normal" stroke="#000" stroke-width="0.201">t</text>
<text transform="translate(36.30,659.50) rotate(-90) translate(-1.44,0.00) scale(0.7690,1.0000)" font-size="43.90" font-weight="normal" stroke="#000" stroke-width="0.130">C</text>
<text transform="translate(36.30,659.50) rotate(-90) translate(24.13,0.00) scale(0.9894,0.9350)" font-size="43.90" font-weight="normal" stroke="#000" stroke-width="0.101">o</text>
<text transform="translate(36.30,659.50) rotate(-90) translate(49.93,0.00) scale(0.9038,0.9350)" font-size="43.90" font-weight="normal" stroke="#000" stroke-width="0.111">n</text>
<text transform="translate(36.30,659.50) rotate(-90) translate(69.81,0.00) scale(1.0547,0.9350)" font-size="43.90" font-weight="normal" stroke="#000" stroke-width="0.095">c</text>
<text transform="translate(36.30,659.50) rotate(-90) translate(92.20,0.00) scale(1.0567,0.9350)" font-size="43.90" font-weight="normal" stroke="#000" stroke-width="0.095">e</text>
<text transform="translate(36.30,659.50) rotate(-90) translate(119.43,0.00) scale(0.9038,0.9350)" font-size="43.90" font-weight="normal" stroke="#000" stroke-width="0.111">n</text>
<text transform="translate(36.30,659.50) rotate(-90) translate(142.96,0.00) scale(1.2815,0.9350)" font-size="43.90" font-weight="normal" stroke="#000" stroke-width="0.078">t</text>
<text transform="translate(36.30,659.50) rotate(-90) translate(160.67,0.00) scale(1.0297,0.9350)" font-size="43.90" font-weight="normal" stroke="#000" stroke-width="0.097">r</text>
<text transform="translate(36.30,659.50) rotate(-90) translate(175.32,0.00) scale(0.7756,0.9350)" font-size="43.90" font-weight="normal" stroke="#000" stroke-width="0.129">a</text>
<text transform="translate(36.30,659.50) rotate(-90) translate(199.09,0.00) scale(1.0679,0.9350)" font-size="43.90" font-weight="normal" stroke="#000" stroke-width="0.094">t</text>
<text transform="translate(36.30,659.50) rotate(-90) translate(214.82,0.00) scale(1.0096,1.0000)" font-size="43.90" font-weight="normal" stroke="#000" stroke-width="0.099">i</text>
<text transform="translate(36.30,659.50) rotate(-90) translate(224.67,0.00) scale(0.9653,0.9350)" font-size="43.90" font-weight="normal" stroke="#000" stroke-width="0.104">o</text>
<text transform="translate(36.30,659.50) rotate(-90) translate(251.64,0.00) scale(0.9359,0.9350)" font-size="43.90" font-weight="normal" stroke="#000" stroke-width="0.107">n</text>
<text transform="translate(36.30,659.50) rotate(-90) translate(289.17,0.00) scale(0.6903,1.0000)" font-size="43.90" font-weight="normal" stroke="#000" stroke-width="0.145">(</text>
<text transform="translate(36.30,659.50) rotate(-90) translate(302.18,0.00) scale(0.9898,0.9350)" font-size="43.90" font-weight="normal" stroke="#000" stroke-width="0.101">m</text>
<text transform="translate(36.30,659.50) rotate(-90) translate(340.38,-2.43) scale(0.9619,0.8574)" font-size="43.90" font-weight="normal" stroke="#000" stroke-width="0.104">g</text>
<text transform="translate(36.30,659.50) rotate(-90) translate(383.82,0.00) scale(0.7319,1.0000)" font-size="43.90" font-weight="normal" stroke="#000" stroke-width="0.137">L</text>
<text transform="translate(36.30,659.50) rotate(-90) translate(405.59,0.00) scale(0.6252,1.0000)" font-size="43.90" font-weight="normal" stroke="#000" stroke-width="0.160">)</text>
<line x1="4.2" y1="279.0" x2="41.0" y2="294.0" stroke="#000" stroke-width="3.3"/>
<text transform="translate(326.92,956.00) scale(0.8726,1.0000)" font-size="43.02" font-weight="normal" stroke="#000" stroke-width="0.115">T</text>
<text transform="translate(351.00,956.00) scale(1.0565,1.0000)" font-size="43.02" font-weight="normal" stroke="#000" stroke-width="0.095">i</text>
<text transform="translate(362.26,956.00) scale(1.0512,0.9500)" font-size="43.02" font-weight="normal" stroke="#000" stroke-width="0.095">m</text>
<text transform="translate(400.40,956.00) scale(0.8877,0.9500)" font-size="43.02" font-weight="normal" stroke="#000" stroke-width="0.113">e</text>
<text transform="translate(433.50,956.00) scale(0.7484,1.0000)" font-size="43.02" font-weight="normal" stroke="#000" stroke-width="0.134">(</text>
<text transform="translate(448.05,956.00) scale(0.9426,1.0000)" font-size="43.02" font-weight="normal" stroke="#000" stroke-width="0.106">d</text>
<text transform="translate(473.19,956.00) scale(0.7235,0.9500)" font-size="43.02" font-weight="normal" stroke="#000" stroke-width="0.138">a</text>
<text transform="translate(493.17,956.00) scale(0.9255,0.9500)" font-size="43.02" font-weight="normal" stroke="#000" stroke-width="0.108">y</text>
<text transform="translate(515.57,956.00) scale(0.7730,0.9500)" font-size="43.02" font-weight="normal" stroke="#000" stroke-width="0.129">s</text>
<text transform="translate(536.56,956.00) scale(0.7427,1.0000)" font-size="43.02" font-weight="normal" stroke="#000" stroke-width="0.135">)</text>
</g>
</svg>
</body></html>
